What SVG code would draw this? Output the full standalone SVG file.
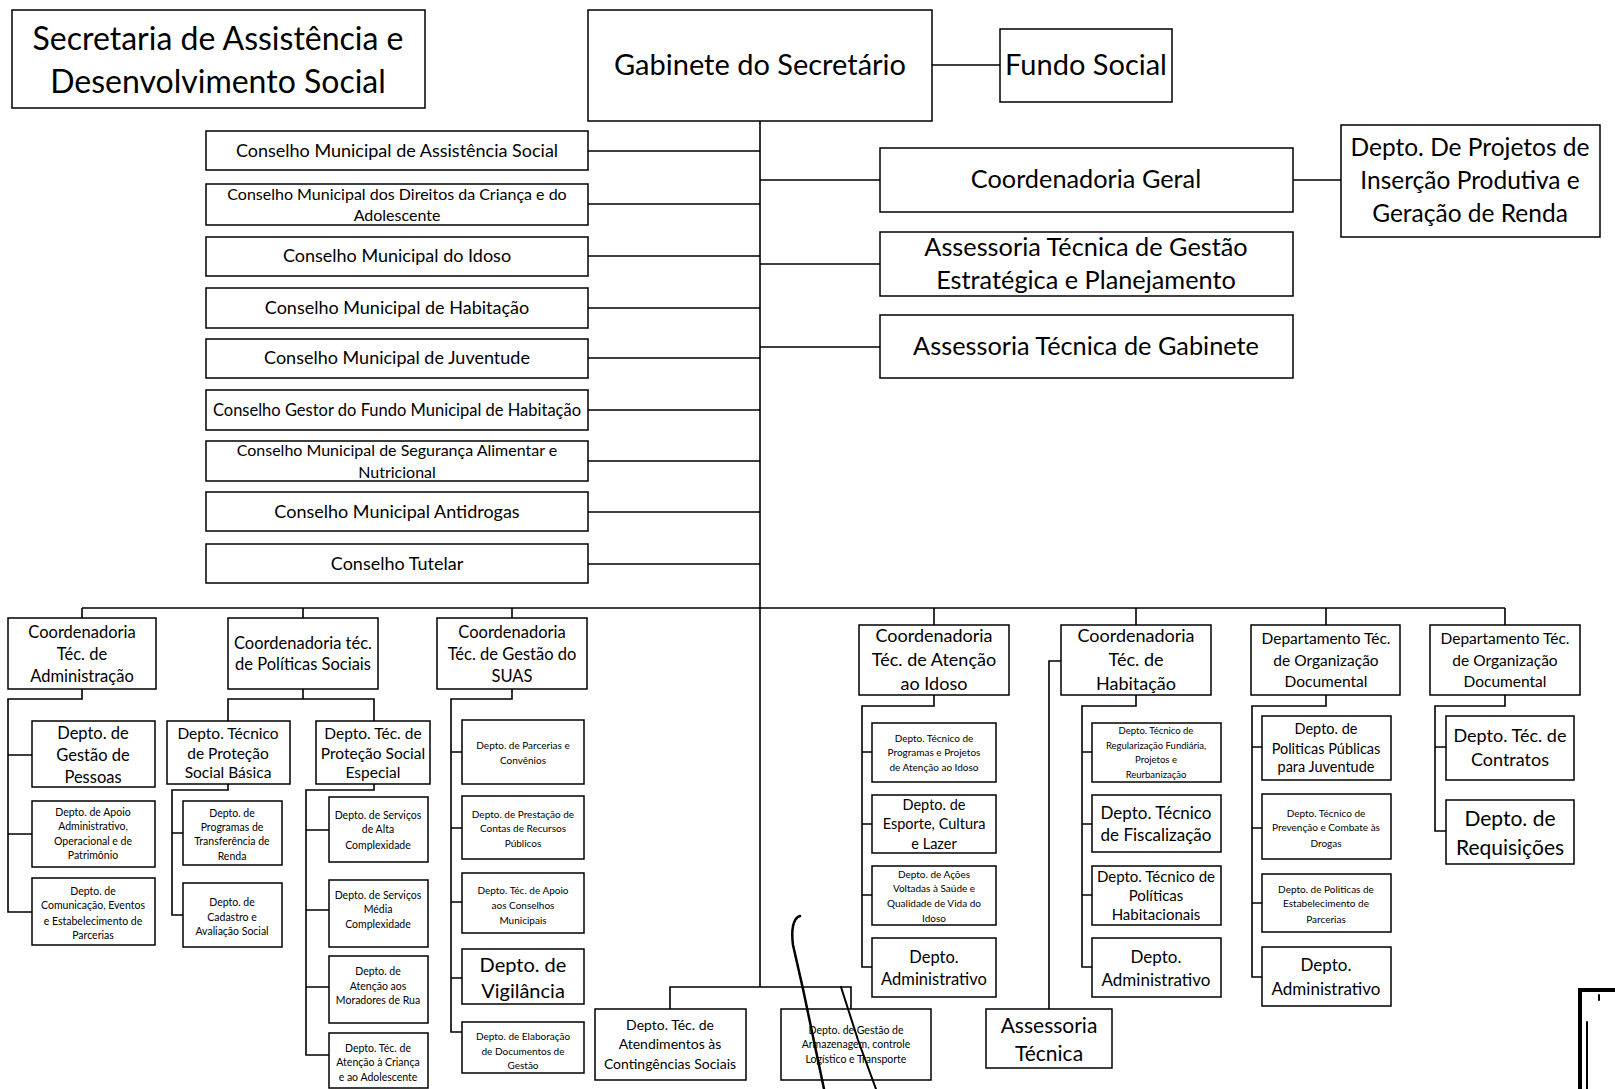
<svg xmlns="http://www.w3.org/2000/svg" width="1615" height="1089" viewBox="0 0 1615 1089">
<style>
.bx{fill:#fff;stroke:#000;stroke-width:1.5}
.ln{fill:none;stroke:#000;stroke-width:1.6}
.mk{fill:none;stroke:#000;stroke-linecap:round}
text{font-family:Lato,"Liberation Sans",sans-serif;text-anchor:middle;fill:#000}
.s95{font-size:9.5px}.s10{font-size:10px}.s105{font-size:10.5px}.s14{font-size:14px}.s145{font-size:14.5px}.s15{font-size:15px}.s155{font-size:15.5px}.s16{font-size:16px}.s165{font-size:16.5px}.s17{font-size:17px}.s18{font-size:18px}.s20{font-size:20px}.s21{font-size:21px}.s245{font-size:24.5px}.s25{font-size:25.3px}.s29{font-size:29px}.s32{font-size:32px}
</style>
<rect width="1615" height="1089" fill="#fff"/>
<g id="connectors">
<path class="ln" d="M760 121V987M932 65H1000"/>
<path class="ln" d="M588 151H760M588 204H760M588 256H760M588 308H760M588 358H760M588 410H760M588 461H760M588 512H760M588 564H760"/>
<path class="ln" d="M760 180H880M1293 180H1341M760 264H880M760 347H880"/>
<path class="ln" d="M82 608H1505M82 608V618M303 608V618M512 608V618M934 608V625M1136 608V625M1326 608V625M1505 608V625"/>
<path class="ln" d="M670 1009V987H851V1009"/>
<path class="ln" d="M82 689V699H8V912H32M8 755H32M8 834H32"/>
<path class="ln" d="M303 689V699M228 721V699H374V721"/>
<path class="ln" d="M228 784V790H172V915H183M172 833H183"/>
<path class="ln" d="M374 784V790H306V1055H329M306 830H329M306 910H329M306 987H329"/>
<path class="ln" d="M512 689V699H451V1032H462M451 752H462M451 828H462M451 902H462M451 978H462"/>
<path class="ln" d="M934 695V706H862V967H872M862 752H872M862 824H872M862 895H872"/>
<path class="ln" d="M1136 695V706H1082V967H1092M1082 752H1092M1082 824H1092M1082 895H1092"/>
<path class="ln" d="M1061 661H1049V1009"/>
<path class="ln" d="M1326 695V706H1252V977H1262M1252 747H1262M1252 828H1262M1252 903H1262"/>
<path class="ln" d="M1505 695V706H1435V831H1446M1435 747H1446"/>
</g>
<g id="title"><rect class="bx" x="12" y="10" width="413" height="98"/><text class="s32" x="218" y="50">Secretaria de Assistência e</text><text class="s32" x="218" y="93">Desenvolvimento Social</text></g>
<g id="gabinete"><rect class="bx" x="588" y="10" width="344" height="111"/><text class="s29" x="760" y="75">Gabinete do Secretário</text></g>
<g id="fundo-social"><rect class="bx" x="1000" y="29" width="172" height="73"/><text class="s29" x="1086" y="75">Fundo Social</text></g>
<g id="coord-geral"><rect class="bx" x="880" y="148" width="413" height="64"/><text class="s25" x="1086" y="188">Coordenadoria Geral</text></g>
<g id="depto-projetos"><rect class="bx" x="1341" y="125" width="259" height="112"/><text class="s245" x="1470" y="156">Depto. De Projetos de</text><text class="s245" x="1470" y="189">Inserção Produtiva e</text><text class="s245" x="1470" y="222">Geração de Renda</text></g>
<g id="assess-gestao"><rect class="bx" x="880" y="232" width="413" height="64"/><text class="s25" x="1086" y="256">Assessoria Técnica de Gestão</text><text class="s25" x="1086" y="289">Estratégica e Planejamento</text></g>
<g id="assess-gabinete"><rect class="bx" x="880" y="315" width="413" height="63"/><text class="s25" x="1086" y="355">Assessoria Técnica de Gabinete</text></g>
<g id="c1"><rect class="bx" x="206" y="131" width="382" height="39"/><text class="s18" x="397" y="157">Conselho Municipal de Assistência Social</text></g>
<g id="c2"><rect class="bx" x="206" y="184" width="382" height="41"/><text class="s16" x="397" y="200">Conselho Municipal dos Direitos da Criança e do</text><text class="s16" x="397" y="221">Adolescente</text></g>
<g id="c3"><rect class="bx" x="206" y="237" width="382" height="39"/><text class="s18" x="397" y="262">Conselho Municipal do Idoso</text></g>
<g id="c4"><rect class="bx" x="206" y="288" width="382" height="40"/><text class="s18" x="397" y="314">Conselho Municipal de Habitação</text></g>
<g id="c5"><rect class="bx" x="206" y="339" width="382" height="39"/><text class="s18" x="397" y="364">Conselho Municipal de Juventude</text></g>
<g id="c6"><rect class="bx" x="206" y="390" width="382" height="40"/><text class="s165" x="397" y="416">Conselho Gestor do Fundo Municipal de Habitação</text></g>
<g id="c7"><rect class="bx" x="206" y="441" width="382" height="40"/><text class="s16" x="397" y="456">Conselho Municipal de Segurança Alimentar e</text><text class="s16" x="397" y="478">Nutricional</text></g>
<g id="c8"><rect class="bx" x="206" y="492" width="382" height="39"/><text class="s18" x="397" y="518">Conselho Municipal Antidrogas</text></g>
<g id="c9"><rect class="bx" x="206" y="544" width="382" height="39"/><text class="s18" x="397" y="570">Conselho Tutelar</text></g>
<g id="coord-adm"><rect class="bx" x="8" y="618" width="148" height="71"/><text class="s165" x="82" y="638">Coordenadoria</text><text class="s165" x="82" y="660">Téc. de</text><text class="s165" x="82" y="682">Administração</text></g>
<g id="coord-politicas"><rect class="bx" x="228" y="618" width="150" height="71"/><text class="s165" x="303" y="649">Coordenadoria téc.</text><text class="s165" x="303" y="670">de Políticas Sociais</text></g>
<g id="coord-suas"><rect class="bx" x="437" y="618" width="150" height="71"/><text class="s165" x="512" y="638">Coordenadoria</text><text class="s165" x="512" y="660">Téc. de Gestão do</text><text class="s165" x="512" y="682">SUAS</text></g>
<g id="coord-idoso"><rect class="bx" x="859" y="625" width="150" height="70"/><text class="s18" x="934" y="642">Coordenadoria</text><text class="s18" x="934" y="666">Téc. de Atenção</text><text class="s18" x="934" y="690">ao Idoso</text></g>
<g id="coord-habitacao"><rect class="bx" x="1061" y="625" width="150" height="70"/><text class="s18" x="1136" y="642">Coordenadoria</text><text class="s18" x="1136" y="666">Téc. de</text><text class="s18" x="1136" y="690">Habitação</text></g>
<g id="dept-org-1"><rect class="bx" x="1251" y="625" width="149" height="70"/><text class="s155" x="1326" y="644">Departamento Téc.</text><text class="s155" x="1326" y="666">de Organização</text><text class="s155" x="1326" y="687">Documental</text></g>
<g id="dept-org-2"><rect class="bx" x="1430" y="625" width="150" height="70"/><text class="s155" x="1505" y="644">Departamento Téc.</text><text class="s155" x="1505" y="666">de Organização</text><text class="s155" x="1505" y="687">Documental</text></g>
<g id="d-pessoas"><rect class="bx" x="32" y="721" width="123" height="66"/><text class="s165" x="93" y="739">Depto. de</text><text class="s165" x="93" y="761">Gestão de</text><text class="s165" x="93" y="783">Pessoas</text></g>
<g id="d-apoio"><rect class="bx" x="32" y="801" width="123" height="66"/><text class="s105" x="93" y="816">Depto. de Apoio</text><text class="s105" x="93" y="830">Administrativo,</text><text class="s105" x="93" y="845">Operacional e de</text><text class="s105" x="93" y="859">Patrimônio</text></g>
<g id="d-comunicacao"><rect class="bx" x="32" y="878" width="123" height="67"/><text class="s105" x="93" y="895">Depto. de</text><text class="s105" x="93" y="909">Comunicação, Eventos</text><text class="s105" x="93" y="925">e Estabelecimento de</text><text class="s105" x="93" y="939">Parcerias</text></g>
<g id="d-basica"><rect class="bx" x="167" y="721" width="123" height="63"/><text class="s155" x="228" y="739">Depto. Técnico</text><text class="s155" x="228" y="759">de Proteção</text><text class="s155" x="228" y="778">Social Básica</text></g>
<g id="d-especial"><rect class="bx" x="316" y="721" width="114" height="63"/><text class="s155" x="373" y="739">Depto. Téc. de</text><text class="s155" x="373" y="759">Proteção Social</text><text class="s155" x="373" y="778">Especial</text></g>
<g id="d-programas"><rect class="bx" x="183" y="801" width="99" height="64"/><text class="s105" x="232" y="817">Depto. de</text><text class="s105" x="232" y="831">Programas de</text><text class="s105" x="232" y="845">Transferência de</text><text class="s105" x="232" y="860">Renda</text></g>
<g id="d-cadastro"><rect class="bx" x="183" y="883" width="99" height="64"/><text class="s105" x="232" y="906">Depto. de</text><text class="s105" x="232" y="921">Cadastro e</text><text class="s105" x="232" y="935">Avaliação Social</text></g>
<g id="d-alta"><rect class="bx" x="329" y="797" width="99" height="65"/><text class="s105" x="378" y="819">Depto. de Serviços</text><text class="s105" x="378" y="833">de Alta</text><text class="s105" x="378" y="849">Complexidade</text></g>
<g id="d-media"><rect class="bx" x="329" y="880" width="99" height="67"/><text class="s105" x="378" y="899">Depto. de Serviços</text><text class="s105" x="378" y="913">Média</text><text class="s105" x="378" y="928">Complexidade</text></g>
<g id="d-moradores"><rect class="bx" x="329" y="956" width="99" height="67"/><text class="s105" x="378" y="975">Depto. de</text><text class="s105" x="378" y="990">Atenção aos</text><text class="s105" x="378" y="1004">Moradores de Rua</text></g>
<g id="d-crianca"><rect class="bx" x="329" y="1033" width="99" height="55"/><text class="s105" x="378" y="1052">Depto. Téc. de</text><text class="s105" x="378" y="1066">Atenção à Criança</text><text class="s105" x="378" y="1081">e ao Adolescente</text></g>
<g id="d-parcerias"><rect class="bx" x="462" y="720" width="122" height="64"/><text class="s10" x="523" y="749">Depto. de Parcerias e</text><text class="s10" x="523" y="764">Convênios</text></g>
<g id="d-prestacao"><rect class="bx" x="462" y="796" width="122" height="63"/><text class="s10" x="523" y="818">Depto. de Prestação de</text><text class="s10" x="523" y="832">Contas de Recursos</text><text class="s10" x="523" y="847">Públicos</text></g>
<g id="d-apoio-conselhos"><rect class="bx" x="462" y="873" width="122" height="60"/><text class="s10" x="523" y="894">Depto. Téc. de Apoio</text><text class="s10" x="523" y="909">aos Conselhos</text><text class="s10" x="523" y="924">Municipais</text></g>
<g id="d-vigilancia"><rect class="bx" x="462" y="949" width="122" height="55"/><text class="s20" x="523" y="972">Depto. de</text><text class="s20" x="523" y="998">Vigilância</text></g>
<g id="d-elaboracao"><rect class="bx" x="462" y="1022" width="122" height="51"/><text class="s10" x="523" y="1040">Depto. de Elaboração</text><text class="s10" x="523" y="1055">de Documentos de</text><text class="s10" x="523" y="1069">Gestão</text></g>
<g id="d-atendimentos"><rect class="bx" x="595" y="1009" width="151" height="71"/><text class="s14" x="670" y="1030">Depto. Téc. de</text><text class="s14" x="670" y="1049">Atendimentos às</text><text class="s14" x="670" y="1069">Contingências Sociais</text></g>
<g id="d-armazenagem"><rect class="bx" x="781" y="1009" width="150" height="71"/><text class="s105" x="856" y="1034">Depto. de Gestão de</text><text class="s105" x="856" y="1048">Armazenagem, controle</text><text class="s105" x="856" y="1063">Logístico e Transporte</text></g>
<g id="d-idoso-programas"><rect class="bx" x="872" y="723" width="124" height="59"/><text class="s10" x="934" y="742">Depto. Técnico de</text><text class="s10" x="934" y="756">Programas e Projetos</text><text class="s10" x="934" y="771">de Atenção ao Idoso</text></g>
<g id="d-esporte"><rect class="bx" x="872" y="795" width="124" height="58"/><text class="s145" x="934" y="810">Depto. de</text><text class="s145" x="934" y="829">Esporte, Cultura</text><text class="s145" x="934" y="849">e Lazer</text></g>
<g id="d-saude"><rect class="bx" x="872" y="866" width="124" height="59"/><text class="s10" x="934" y="878">Depto. de Ações</text><text class="s10" x="934" y="892">Voltadas à Saúde e</text><text class="s10" x="934" y="907">Qualidade de Vida do</text><text class="s10" x="934" y="922">Idoso</text></g>
<g id="d-idoso-adm"><rect class="bx" x="872" y="938" width="124" height="59"/><text class="s165" x="934" y="963">Depto.</text><text class="s165" x="934" y="985">Administrativo</text></g>
<g id="d-regularizacao"><rect class="bx" x="1092" y="723" width="129" height="59"/><text class="s95" x="1156" y="734">Depto. Técnico de</text><text class="s95" x="1156" y="749">Regularização Fundiária,</text><text class="s95" x="1156" y="763">Projetos e</text><text class="s95" x="1156" y="778">Reurbanização</text></g>
<g id="d-fiscalizacao"><rect class="bx" x="1092" y="795" width="129" height="57"/><text class="s17" x="1156" y="819">Depto. Técnico</text><text class="s17" x="1156" y="841">de Fiscalização</text></g>
<g id="d-politicas-hab"><rect class="bx" x="1092" y="866" width="129" height="59"/><text class="s15" x="1156" y="882">Depto. Técnico de</text><text class="s15" x="1156" y="901">Políticas</text><text class="s15" x="1156" y="920">Habitacionais</text></g>
<g id="d-hab-adm"><rect class="bx" x="1092" y="938" width="129" height="59"/><text class="s17" x="1156" y="963">Depto.</text><text class="s17" x="1156" y="986">Administrativo</text></g>
<g id="assess-tecnica"><rect class="bx" x="986" y="1009" width="126" height="59"/><text class="s21" x="1049" y="1033">Assessoria</text><text class="s21" x="1049" y="1061">Técnica</text></g>
<g id="d-juventude"><rect class="bx" x="1262" y="716" width="129" height="64"/><text class="s145" x="1326" y="734">Depto. de</text><text class="s145" x="1326" y="754">Politicas Públicas</text><text class="s145" x="1326" y="772">para Juventude</text></g>
<g id="d-drogas"><rect class="bx" x="1262" y="794" width="129" height="65"/><text class="s10" x="1326" y="817">Depto. Técnico de</text><text class="s10" x="1326" y="831">Prevenção e Combate às</text><text class="s10" x="1326" y="847">Drogas</text></g>
<g id="d-parcerias-pol"><rect class="bx" x="1262" y="874" width="129" height="58"/><text class="s10" x="1326" y="893">Depto. de Politicas de</text><text class="s10" x="1326" y="907">Estabelecimento de</text><text class="s10" x="1326" y="923">Parcerias</text></g>
<g id="d-org-adm"><rect class="bx" x="1262" y="947" width="129" height="59"/><text class="s17" x="1326" y="971">Depto.</text><text class="s17" x="1326" y="995">Administrativo</text></g>
<g id="d-contratos"><rect class="bx" x="1446" y="716" width="128" height="64"/><text class="s18" x="1510" y="742">Depto. Téc. de</text><text class="s18" x="1510" y="766">Contratos</text></g>
<g id="d-requisicoes"><rect class="bx" x="1446" y="800" width="128" height="64"/><text class="s21" x="1510" y="826">Depto. de</text><text class="s21" x="1510" y="855">Requisições</text></g>
<g id="scan-marks">
<path class="mk" stroke-width="2.5" d="M800 916C793 918 791 930 793 945L803 989L824 1089"/>
<path class="mk" stroke-width="2" d="M841 987L858 1040L876 1089"/>
<path class="mk" stroke-width="4" d="M1615 990H1580V1089"/>
<path class="mk" stroke-width="2" d="M1587 1022V1089M1599 995V1000"/>
</g>
</svg>
